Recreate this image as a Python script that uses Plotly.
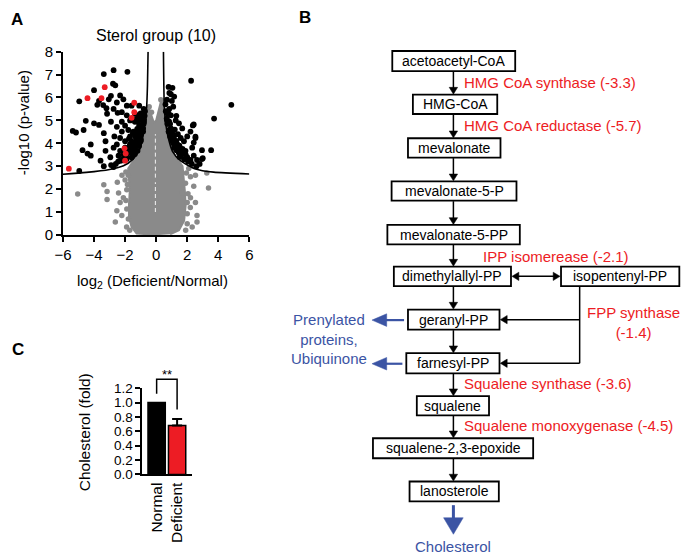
import plotly.graph_objects as go

W, H = 685, 560
FONT = "Liberation Sans, Arial, Helvetica, sans-serif"
RED = "#ED1C24"
BLUE = "#3B54A4"
GRAY = "#8A8A8A"

# ---------------- Panel A data (volcano plot) ----------------
xticks_A = [-6, -4, -2, 0, 2, 4, 6]
yticks_A = [0, 1, 2, 3, 4, 5, 6, 7, 8]

curve_left_x = [-6.0, -4.5, -3.0, -2.1, -1.5, -1.05, -0.85, -0.74, -0.62, -0.56, -0.52]
curve_left_y = [2.65, 2.73, 2.86, 3.02, 3.30, 3.75, 4.30, 4.85, 5.50, 6.50, 8.0]
curve_right_x = [0.47, 0.53, 0.63, 0.74, 1.05, 1.58, 2.53, 3.70, 6.0]
curve_right_y = [8.0, 5.50, 4.80, 4.36, 3.65, 3.23, 2.88, 2.74, 2.66]

# dense non-significant cloud outline
core_x = [0.2, -0.6, -1.26, -1.58, -1.75, -1.75, -1.7, -1.75, -1.8, -1.5, -1.2, -0.95, -0.8,
          -0.7, -0.6, -0.45, -0.3, -0.15, 0.0, 0.15, 0.3, 0.45, 0.55, 0.68, 0.95, 1.3, 1.7,
          1.8, 1.85, 1.9, 1.8, 1.47, 0.9]
core_y = [0.0, 0.02, 0.06, 0.34, 0.76, 1.33, 1.9, 2.45, 2.9, 3.2, 3.55, 3.9, 4.3,
          4.9, 5.4, 5.5, 5.2, 4.9, 5.0, 5.4, 5.8, 5.7, 5.0, 4.4, 3.8, 3.35, 3.0,
          2.4, 1.9, 1.3, 0.62, 0.2, 0.03]

gray_x = [-5.05, -3.37, -3.16, -3.16, -2.53, -2.63, -2.32, -2.21, -2.11, -1.89, -1.89, -1.79,
          -2.42, -2.0, -2.2, -1.95, -2.5, -1.9, -1.7, -1.85, -1.95, -1.8,
          3.26, 3.37, 2.53, 2.63, 2.63, 2.32, 2.0, 2.0, 2.21, 2.42, 2.53, 2.21, 1.89, 1.68,
          2.0, 2.1, 1.9, 2.2, 1.95, 2.05, 0.49, 0.3, -0.45, -0.3]
gray_y = [1.79, 2.19, 1.9, 1.55, 1.06, 0.56, 1.41, 0.85, 1.62, 1.97, 1.13, 0.7,
          1.83, 2.4, 2.6, 2.75, 2.3, 0.35, 0.2, 2.2, 1.5, 2.6,
          2.7, 2.05, 1.41, 0.85, 0.56, 0.35, 0.92, 1.41, 1.62, 2.12, 2.61, 2.54, 2.26, 1.83,
          0.49, 2.9, 0.2, 1.2, 2.7, 1.8, 5.85, 5.9, 5.6, 5.35]

sig_x = [-2.74, -1.85, -3.37, -2.78, -2.63, -4.0, -3.68, -4.95, -3.79, -3.41, -2.91, -2.32,
         -2.11, -3.05, -2.53, -3.2, -2.74, -2.21, -1.89, -1.58, -1.09, -2.48, -3.16, -1.89,
         -2.91, -4.53, -5.37, -5.16, -4.67, -4.0, -3.68, -3.37, -2.53, -2.21, -2.0, -1.68,
         -1.37, -1.16, -0.95, -0.84, -2.69, -2.32, -2.0, -3.26, -4.21, -4.74, -4.42, -4.21,
         -3.26, -2.74, -2.53, -1.68, -1.47, -1.22, -1.05, -0.88, -0.84, -1.05, -1.26, -1.47,
         -1.79, -1.58, -1.89, -2.32, -2.95, -3.58, -3.37, -2.74, -4.95, -1.2, -1.1, -1.0,
         -0.98, -1.37, -2.11, -2.32, -2.42, -2.0, -1.22, -1.68, -2.21, -1.79, -0.78, -0.85,
         -1.37, -1.16,
         -1.55, -1.45, -1.35, -1.5, -1.3, -1.15, -1.1, -1.0, -0.9, -0.85, -0.8, -0.78, -0.74,
         -0.72, -0.95, -1.05, -1.2, -1.35, -1.6, -1.7, -1.8, -1.9, -2.1, -2.2, -1.75, -1.5,
         -1.1, -0.9, -1.0, -0.8, -1.25, -1.45, -1.65, -0.98, -1.2, -0.85, -1.3, -2.6, -2.9,
         -2.45,
         2.25, 0.8, 1.05, 0.95, 1.16, 1.01, 4.84, 3.73, 0.84, 0.95, 1.26, 1.47, 1.68, 2.21,
         2.42, 2.0, 1.58, 1.16, 0.95, 0.84, 0.68, 0.74, 1.37, 1.79, 2.32, 2.53, 2.95, 3.54,
         2.42, 2.0, 1.68, 1.16, 1.05, 2.63, 2.21, 2.95, 1.47, 1.89, 0.8, 0.72, 1.5, 2.36,
         2.53, 2.42,
         0.6, 0.62, 0.7, 0.75, 0.85, 0.9, 1.0, 1.1, 1.2, 1.3, 1.45, 1.6, 1.8, 2.05, 2.3, 1.0,
         1.15, 1.3, 1.5, 1.7, 1.9, 0.8, 0.9, 1.2, 1.4, 0.7, 0.85, 1.1, 1.3, 2.6, 2.8, 3.0]
sig_y = [7.19, 7.12, 7.02, 6.6, 6.53, 6.32, 5.85, 5.83, 5.68, 5.67, 6.07, 6.09,
         5.92, 5.92, 5.78, 5.53, 5.5, 5.36, 5.64, 5.64, 5.64, 5.33, 5.29, 5.22,
         4.94, 4.98, 4.54, 4.47, 4.58, 4.87, 4.8, 4.44, 4.72, 4.94, 4.77, 5.0,
         4.94, 5.0, 5.08, 5.22, 4.3, 4.23, 4.09, 4.09, 3.95, 3.7, 3.55, 3.46,
         3.67, 3.81, 3.95, 4.3, 4.51, 4.63, 4.72, 4.8, 4.51, 4.23, 4.02, 3.81,
         3.67, 3.39, 3.31, 3.24, 3.39, 3.24, 3.0, 2.96, 2.79, 3.67, 3.88, 4.09,
         4.15, 3.53, 3.53, 3.67, 3.46, 3.81, 4.3, 3.95, 4.51, 4.58, 4.94, 4.65,
         5.29, 5.22,
         3.6, 3.7, 3.85, 3.95, 4.1, 4.0, 4.2, 4.35, 4.5, 4.65, 4.85, 5.05, 5.2,
         5.4, 4.6, 4.55, 4.4, 4.3, 4.1, 3.9, 3.6, 3.5, 3.35, 3.25, 4.2, 4.45,
         4.8, 5.0, 5.3, 5.5, 3.95, 3.55, 3.7, 4.45, 4.6, 5.25, 5.05, 3.1, 3.05,
         3.2,
         6.73, 6.46, 6.42, 6.14, 6.04, 5.85, 5.68, 5.08, 5.5, 5.22, 5.0, 4.87, 4.65, 4.51,
         4.82, 4.3, 4.23, 4.37, 4.65, 4.94, 5.08, 5.29, 3.95, 4.09, 3.81, 4.23, 3.7, 3.7,
         3.46, 3.39, 3.6, 3.81, 4.09, 3.27, 3.27, 3.31, 3.74, 3.67, 4.51, 4.85, 3.4, 4.78,
         4.29, 4.03,
         5.7, 5.4, 5.0, 4.85, 4.6, 4.3, 4.2, 4.0, 3.85, 3.7, 3.6, 3.45, 3.3, 3.2, 3.1, 4.5,
         4.3, 4.1, 3.9, 3.75, 3.5, 5.3, 4.85, 4.6, 4.4, 5.9, 6.2, 5.6, 5.2, 3.0, 3.1, 3.35]

sterol_x = [-5.62, -4.42, -3.31, -3.52, -1.41, -1.41, -1.58, -2.04, -1.96, -2.0]
sterol_y = [2.89, 5.97, 6.45, 5.97, 5.77, 5.36, 5.11, 3.78, 3.55, 3.24]

# faint white gap in the dense cloud near x = 0
gap_x = [-0.05, -0.05, None, -0.05, -0.05]
gap_y = [1.0, 2.3, None, 2.5, 4.4]

# ---------------- Panel C data ----------------
groups = ["Normal", "Deficient"]
chol_mean = [1.0, 0.68]
chol_err = [0.0, 0.09]
yticks_C = [0.0, 0.2, 0.4, 0.6, 0.8, 1.0, 1.2]
bracket_y = [1.123, 1.325, 1.325, 0.903]

# ---------------- Panel B data (pathway) ----------------
nodes = ["acetoacetyl-CoA", "HMG-CoA", "mevalonate", "mevalonate-5-P", "mevalonate-5-PP",
         "dimethylallyl-PP", "isopentenyl-PP", "geranyl-PP", "farnesyl-PP", "squalene",
         "squalene-2,3-epoxide", "lanosterole"]
enzymes = ["HMG CoA synthase", "HMG CoA reductase", "IPP isomerease", "FPP synthase",
           "Squalene synthase", "Squalene monoxygenase"]
enzyme_fc = [-3.3, -5.7, -2.1, -1.4, -3.6, -4.5]
side_products = "Prenylated<br>proteins,<br>Ubiquinone"
end_product = "Cholesterol"

# layout positions for the diagram (pixels of the 685x560 page)
node_box = [(390.7, 516.0, 43.3, 64.0), (411.7, 497.7, 88.3, 108.3), (406.7, 501.0, 133.3, 153.3),
            (390.0, 517.3, 177.7, 197.7), (385.7, 520.7, 222.7, 242.7), (392.3, 511.7, 265.7, 285.7),
            (562.7, 683.3, 265.7, 285.7), (406.7, 500.0, 310.0, 330.7), (405.0, 500.0, 355.0, 375.7),
            (415.7, 489.3, 399.3, 419.0), (371.0, 534.3, 442.7, 463.3), (408.3, 499.3, 487.3, 507.7)]
flow_pairs = [(0, 1), (1, 2), (2, 3), (3, 4), (4, 5), (5, 7), (7, 8), (8, 9), (9, 10), (10, 11)]
enzyme_pos = [(461.5, 76, "left"), (461.5, 120, "left"), (481, 255, "left"),
              (636.7, 323.5, "center"), (461.5, 386, "left"), (461.5, 430, "left")]
FLOW_X = 453.0


def fx(x):
    return x / W


def fy(y):
    return 1 - y / H


fig = go.Figure()

# ---- Panel A traces
fig.add_trace(go.Scatter(x=core_x, y=core_y, fill="toself", fillcolor=GRAY, mode="lines",
                         line=dict(color=GRAY, width=2), xaxis="x", yaxis="y", hoverinfo="skip"))
fig.add_trace(go.Scatter(x=gray_x, y=gray_y, mode="markers", marker=dict(color=GRAY, size=5.5),
                         xaxis="x", yaxis="y"))
fig.add_trace(go.Scatter(x=gap_x, y=gap_y, mode="lines", line=dict(color="#F2F2F2", width=1, dash="4px,3px"),
                         xaxis="x", yaxis="y", hoverinfo="skip"))
fig.add_trace(go.Scatter(x=sig_x, y=sig_y, mode="markers", marker=dict(color="black", size=5.8),
                         xaxis="x", yaxis="y"))
fig.add_trace(go.Scatter(x=curve_left_x, y=curve_left_y, mode="lines",
                         line=dict(color="black", width=1.6, shape="spline", smoothing=0.6),
                         xaxis="x", yaxis="y"))
fig.add_trace(go.Scatter(x=curve_right_x, y=curve_right_y, mode="lines",
                         line=dict(color="black", width=1.6, shape="spline", smoothing=0.6),
                         xaxis="x", yaxis="y"))
fig.add_trace(go.Scatter(x=sterol_x, y=sterol_y, mode="markers", marker=dict(color=RED, size=5.8),
                         xaxis="x", yaxis="y"))

# ---- Panel C traces
fig.add_trace(go.Bar(x=[groups[0]], y=[chol_mean[0]], width=0.845,
                     marker=dict(color="black", line=dict(color="black", width=1.5)),
                     xaxis="x2", yaxis="y2"))
fig.add_trace(go.Bar(x=[groups[1]], y=[chol_mean[1]], width=0.845,
                     marker=dict(color=RED, line=dict(color="black", width=1.5)),
                     error_y=dict(type="data", array=[chol_err[1]], arrayminus=[0], symmetric=False,
                                  color="black", thickness=2, width=5),
                     xaxis="x2", yaxis="y2"))
fig.add_trace(go.Scatter(x=[groups[0], groups[0], groups[1], groups[1]], y=bracket_y, mode="lines",
                         line=dict(color="black", width=1.5), xaxis="x2", yaxis="y3"))

axis_common = dict(showgrid=False, zeroline=False, showline=True, linecolor="black",
                   ticks="outside", tickcolor="black", fixedrange=True)

c_y0, c_y1 = 1 - 480 / H, 1 - 391 / H
fig.update_layout(
    width=W, height=H, margin=dict(l=0, r=0, t=0, b=0),
    paper_bgcolor="white", plot_bgcolor="rgba(0,0,0,0)", showlegend=False, barmode="overlay",
    font=dict(family=FONT, color="black"),
    xaxis=dict(domain=[55 / W, 245 / W], range=[-6, 6], tickvals=xticks_A, anchor="y",
               linewidth=1.5, ticklen=5, tickwidth=1.5, tickfont=dict(size=15), **axis_common),
    yaxis=dict(domain=[1 - 233 / H, 1 - 44 / H], range=[0, 8], tickvals=yticks_A, anchor="x",
               linewidth=1.5, ticklen=5, tickwidth=1.5, tickfont=dict(size=15), **axis_common),
    xaxis2=dict(domain=[136 / W, 187 / W], range=[-0.695, 1.75], type="category", anchor="y2",
                showgrid=False, zeroline=False, showline=True, linecolor="black", linewidth=2,
                ticks="", tickangle=-90, tickfont=dict(size=15.5), fixedrange=True),
    yaxis2=dict(domain=[c_y0, c_y1], range=[0, 1.2], tickvals=yticks_C, tickformat=".1f", anchor="x2",
                linewidth=2, ticklen=5, tickwidth=2, tickfont=dict(size=13.5), **axis_common),
    yaxis3=dict(domain=[c_y0, c_y0 + (c_y1 - c_y0) * 1.6 / 1.2], range=[0, 1.6], anchor="x2",
                visible=False, fixedrange=True),
)

ann = []
shapes = []

# panel letters
for letter, (lx, ly) in zip(["A", "B", "C"], [(8.5, 11), (302, 9), (9, 351)]):
    ann.append(dict(x=fx(lx), y=fy(ly), xref="paper", yref="paper", text="<b>%s</b>" % letter,
                    showarrow=False, font=dict(size=17, color="black"), xanchor="center", yanchor="middle"))

# panel A titles
ann.append(dict(x=fx(150), y=fy(27), xref="paper", yref="paper", text="Sterol group (10)",
                showarrow=False, font=dict(size=16), xanchor="center", yanchor="middle"))
ann.append(dict(x=fx(15), y=fy(117), xref="paper", yref="paper", text="-log10 (p-value)",
                showarrow=False, font=dict(size=15), textangle=-90, xanchor="center", yanchor="middle"))
ann.append(dict(x=fx(146), y=fy(281), xref="paper", yref="paper", text="log<sub>2</sub> (Deficient/Normal)",
                showarrow=False, font=dict(size=15), xanchor="center", yanchor="middle"))

# panel C titles
ann.append(dict(x=fx(77), y=fy(437), xref="paper", yref="paper", text="Cholesterol (fold)",
                showarrow=False, font=dict(size=15.5), textangle=-90, xanchor="center", yanchor="middle"))
ann.append(dict(x=0.5, y=1.39, xref="x2", yref="y3", text="**", showarrow=False,
                font=dict(size=13), xanchor="center", yanchor="middle"))

# ---- Panel B diagram
for name, (x0, x1, y0, y1) in zip(nodes, node_box):
    shapes.append(dict(type="rect", xref="paper", yref="paper", x0=fx(x0), x1=fx(x1), y0=fy(y1), y1=fy(y0),
                       line=dict(color="black", width=1.8), fillcolor="white", layer="above"))
    ann.append(dict(x=fx((x0 + x1) / 2), y=fy((y0 + y1) / 2), xref="paper", yref="paper", text=name,
                    showarrow=False, font=dict(size=14), xanchor="center", yanchor="middle"))


def arrow(xa, ya, xb, yb, color="black", width=1.5, L=7.0, hw=4.3, head_a=False):
    dx, dy = xb - xa, yb - ya
    n = (dx * dx + dy * dy) ** 0.5
    ux, uy = dx / n, dy / n
    sx, sy = xa, ya
    if head_a:
        sx, sy = xa + ux * (L - 1), ya + uy * (L - 1)
    ex, ey = xb - ux * (L - 1), yb - uy * (L - 1)
    shapes.append(dict(type="line", xref="paper", yref="paper", x0=fx(sx), y0=fy(sy), x1=fx(ex), y1=fy(ey),
                       line=dict(color=color, width=width)))
    heads = [(xb, yb, ux, uy)]
    if head_a:
        heads.append((xa, ya, -ux, -uy))
    for tx, ty, vx, vy in heads:
        bx, by = tx - vx * L, ty - vy * L
        p1 = (bx - vy * hw, by + vx * hw)
        p2 = (bx + vy * hw, by - vx * hw)
        path = "M %f,%f L %f,%f L %f,%f Z" % (fx(tx), fy(ty), fx(p1[0]), fy(p1[1]), fx(p2[0]), fy(p2[1]))
        shapes.append(dict(type="path", xref="paper", yref="paper", path=path,
                           fillcolor=color, line=dict(color=color, width=0.5)))


for a, b in flow_pairs:
    arrow(FLOW_X, node_box[a][3] + 0.5, FLOW_X, node_box[b][2] - 0.5)

# isomerase double arrow
ym = (node_box[5][2] + node_box[5][3]) / 2
arrow(node_box[5][1] + 1, ym, node_box[6][0] - 1, ym, head_a=True)

# FPP synthase connector
cx = 581.7
g_y = (node_box[7][2] + node_box[7][3]) / 2
f_y = (node_box[8][2] + node_box[8][3]) / 2
shapes.append(dict(type="line", xref="paper", yref="paper", x0=fx(cx), y0=fy(node_box[6][3]), x1=fx(cx), y1=fy(f_y),
                   line=dict(color="black", width=1.5)))
arrow(cx, g_y, node_box[7][1] + 0.8, g_y)
arrow(cx, f_y, node_box[8][1] + 0.8, f_y)

# blue side arrows
arrow(node_box[7][0] - 4, g_y + 0.5, 370, g_y + 0.5, color=BLUE, width=2.2, L=15, hw=6.5)
arrow(node_box[8][0] - 4, f_y + 0.5, 370, f_y + 0.5, color=BLUE, width=2.2, L=15, hw=6.5)
arrow(FLOW_X, node_box[11][3] + 4, FLOW_X, 541.7, color=BLUE, width=3, L=17, hw=10)

ann.append(dict(x=fx(326.7), y=fy(340.5), xref="paper", yref="paper", text=side_products,
                showarrow=False, font=dict(size=15, color=BLUE), xanchor="center", yanchor="middle", align="center"))
ann.append(dict(x=fx(FLOW_X), y=fy(554), xref="paper", yref="paper", text=end_product,
                showarrow=False, font=dict(size=15, color=BLUE), xanchor="center", yanchor="middle"))

for name, fc, (ex, ey, al) in zip(enzymes, enzyme_fc, enzyme_pos):
    if al == "center":
        txt = "%s<br>(%.1f)" % (name, fc)
    else:
        txt = "%s (%.1f)" % (name, fc)
    ann.append(dict(x=fx(ex), y=fy(ey), xref="paper", yref="paper", text=txt, showarrow=False,
                    font=dict(size=15, color=RED), xanchor=al, yanchor="middle", align="center"))

fig.update_layout(annotations=ann, shapes=shapes)
fig.write_html("out.html", config={"displayModeBar": False},
               post_script="document.body.style.margin='0px';document.body.style.padding='0px';")
